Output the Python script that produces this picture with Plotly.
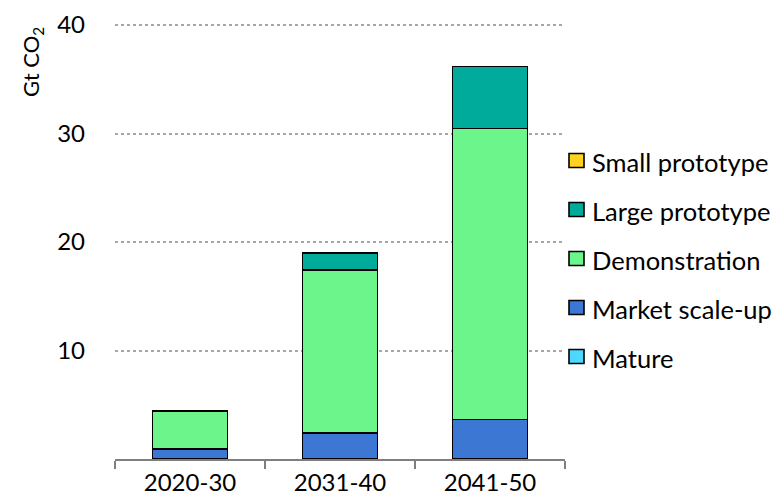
import plotly.graph_objects as go

# Periods on the x axis
periods = ["2020-30", "2031-40", "2041-50"]

# Emission reductions (Gt CO2) by technology maturity, stacked bottom to top
mature = [0.0, 0.0, 0.0]
market_scale_up = [0.9, 2.4, 3.65]
demonstration = [3.5, 15.0, 26.8]
large_prototype = [0.0, 1.6, 5.75]
small_prototype = [0.0, 0.0, 0.0]

y_ticks = [10, 20, 30, 40]

series = [
    ("Mature", mature, "#4DD8FF"),
    ("Market scale-up", market_scale_up, "#3C78D3"),
    ("Demonstration", demonstration, "#6BF58B"),
    ("Large prototype", large_prototype, "#00AB9C"),
    ("Small prototype", small_prototype, "#FFD21F"),
]

FONT = "Lato, 'Open Sans', sans-serif"

W, H = 776, 497
ML, MR, MT, MB = 115, 211, 24, 38
PW, PH = W - ML - MR, H - MT - MB


def px_x(px):
    return (px - ML) / PW


def px_y(py):
    return (H - MB - py) / PH


fig = go.Figure()
for name, vals, color in series:
    # empty segments are left out so they leave no outline on the stack
    fig.add_trace(go.Bar(
        x=periods, y=[v if v else None for v in vals], name=name,
        marker=dict(color=color, line=dict(color="black", width=1.6)),
        width=0.5,
        hoverinfo="skip",
        showlegend=False,
    ))

# Legend on the right: top entry is the last stacked series
shapes, annotations = [], []
row_y0, row_step = 160.5, 49
for k, (name, _, color) in enumerate(reversed(series)):
    cy = row_y0 + k * row_step
    shapes.append(dict(
        type="rect", xref="paper", yref="paper",
        x0=px_x(569), x1=px_x(584), y0=px_y(cy + 7), y1=px_y(cy - 7),
        fillcolor=color, line=dict(color="black", width=1.6),
    ))
    annotations.append(dict(
        text=name, xref="paper", yref="paper",
        x=px_x(590), y=px_y(cy + 1), xanchor="left", yanchor="middle",
        showarrow=False, font=dict(size=25.5),
    ))

annotations.append(dict(
    text="Gt CO<sub>2</sub>",
    xref="paper", yref="paper",
    x=px_x(32), y=px_y(62),
    xanchor="center", yanchor="middle",
    textangle=-90, showarrow=False,
    font=dict(size=22),
))

fig.update_layout(
    barmode="stack",
    width=W, height=H,
    margin=dict(l=ML, r=MR, t=MT, b=MB, autoexpand=False),
    paper_bgcolor="white", plot_bgcolor="white",
    font=dict(family=FONT, size=24, color="black"),
    showlegend=False,
    xaxis=dict(
        automargin=False,
        showline=True, linecolor="#7f7f7f", linewidth=1.5,
        ticks="outside", tickson="boundaries", ticklen=8,
        tickcolor="#7f7f7f", tickwidth=1.5,
        ticklabelstandoff=1,
        showgrid=False,
        tickfont=dict(size=24),
    ),
    yaxis=dict(
        automargin=False,
        range=[0, 40.1],
        tickvals=y_ticks,
        showline=False,
        showgrid=True, gridcolor="#a6a6a6", gridwidth=2, griddash="dot",
        zeroline=False,
        ticklabelstandoff=29,
        tickfont=dict(size=24),
    ),
    shapes=shapes,
    annotations=annotations,
)

fig.write_html("out.html")
